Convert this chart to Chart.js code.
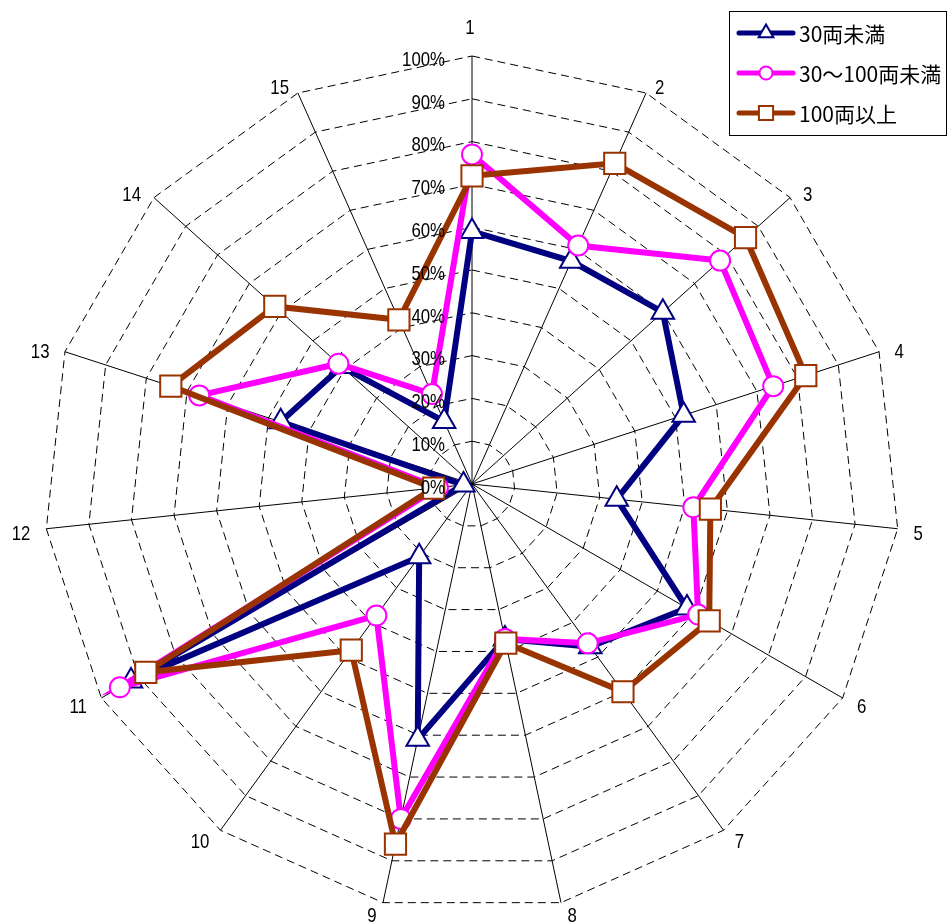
<!DOCTYPE html>
<html>
<head>
<meta charset="utf-8">
<script src="https://cdn.jsdelivr.net/npm/chart.js@4/dist/chart.umd.min.js"></script>
<style>
html,body{margin:0;padding:0;background:#fff;}
#wrap{width:950px;height:924px;}
</style>
</head>
<body>
<div id="wrap"><canvas id="c" width="950" height="924"></canvas></div>
<script>
// ---- data ----
const categories = ['1','2','3','4','5','6','7','8','9','10','11','12','13','14','15'];
const under30      = [59, 57, 60, 52, 34, 58, 47, 37, 61, 21, 92,  2, 47, 41, 16];
const from30to100  = [77, 61, 78, 74, 52, 61, 46, 37, 80, 38, 95,  8, 67, 42, 23];
const over100      = [72, 82, 86, 82, 56, 64, 60, 38, 86, 48, 88,  9, 74, 62, 42];
const tickValues   = [0, 10, 20, 30, 40, 50, 60, 70, 80, 90, 100];
const seriesNames  = ['30両未満', '30〜100両未満', '100両以上'];

// ---- styles ----
const colors = ['#000080', '#FF00FF', '#993300'];
const pStyles = ['triangle', 'circle', 'rect'];
const pRadii = [13, 10, 15];
const legendRadii = [8.5, 6.5, 10];
const seriesData = [under30, from30to100, over100];
const CX = 472, CY = 484, R = 428;
const SX = 0.8; // horizontal squeeze for the narrow digit font

function drawScaled(ctx, text, x, y, align) {
  ctx.save();
  ctx.translate(x, y);
  ctx.scale(SX, 1);
  ctx.textAlign = align;
  ctx.fillText(text, 0, 0);
  ctx.restore();
}

function marker(ctx, style, r, x, y) {
  ctx.beginPath();
  if (style === 'circle') {
    ctx.arc(x, y, r, 0, Math.PI * 2);
  } else if (style === 'rect') {
    const s = Math.SQRT1_2 * r;
    ctx.rect(x - s, y - s, 2 * s, 2 * s);
  } else {
    for (let k = 0; k < 3; k++) {
      const a = k * 2 * Math.PI / 3;
      const px = x + Math.sin(a) * r, py = y - Math.cos(a) * r;
      if (k === 0) ctx.moveTo(px, py); else ctx.lineTo(px, py);
    }
    ctx.closePath();
  }
  ctx.fill();
  ctx.stroke();
}

const overlay = {
  id: 'overlay',
  afterDatasetsDraw(chart) {
    const s = chart.scales.r;
    const ctx = chart.ctx;
    ctx.save();
    ctx.fillStyle = '#000';
    ctx.font = '21px "Liberation Sans", Arial, sans-serif';
    ctx.textBaseline = 'middle';
    tickValues.forEach(v => {
      const y = s.yCenter - s.getDistanceFromCenterForValue(v) + 4;
      drawScaled(ctx, v + '%', s.xCenter - 27, y, 'right');
    });
    categories.forEach((lab, i) => {
      const p = s.getPointPosition(i, s.drawingArea);
      const ang = p.angle + Math.PI / 2;
      const sn = Math.sin(ang), cs = Math.cos(ang);
      const w = ctx.measureText(lab).width * SX;
      let cx, cy;
      if (Math.abs(sn) < 0.01) cx = p.x - 2;
      else cx = p.x + 12 * sn + Math.sign(sn) * (w / 2 + 4);
      if (cs > 0.99) cy = p.y - 28;
      else cy = p.y + 4 - 10 * cs;
      drawScaled(ctx, lab, cx, cy, 'center');
    });
    ctx.restore();
  },
  afterDraw(chart) {
    const ctx = chart.ctx;
    ctx.save();
    const bx = 729.5, by = 11.5, bw = 217, bh = 124;
    ctx.fillStyle = '#fff';
    ctx.fillRect(bx, by, bw, bh);
    ctx.strokeStyle = '#000';
    ctx.lineWidth = 1;
    ctx.strokeRect(bx, by, bw, bh);
    const rows = [33, 73, 113];
    chart.data.datasets.forEach((ds, i) => {
      const y = rows[i];
      ctx.strokeStyle = ds.borderColor;
      ctx.lineWidth = 5;
      ctx.lineCap = 'round';
      ctx.beginPath();
      ctx.moveTo(739, y);
      ctx.lineTo(793, y);
      ctx.stroke();
      ctx.lineCap = 'butt';
      ctx.fillStyle = '#fff';
      ctx.lineWidth = 2;
      marker(ctx, pStyles[i], legendRadii[i], 766, y);
      ctx.fillStyle = '#000';
      ctx.font = '21px "Noto Sans CJK JP", sans-serif';
      ctx.textAlign = 'left';
      ctx.textBaseline = 'middle';
      ctx.fillText(ds.label, 799, y + 1);
    });
    ctx.restore();
  }
};

const datasets = seriesData.map((d, i) => ({
  label: seriesNames[i],
  data: d,
  borderColor: colors[i],
  backgroundColor: 'rgba(0,0,0,0)',
  borderWidth: 6,
  fill: false,
  tension: 0,
  pointStyle: pStyles[i],
  pointRadius: pRadii[i],
  pointHoverRadius: pRadii[i],
  pointBackgroundColor: '#fff',
  pointBorderColor: colors[i],
  pointBorderWidth: 2,
  order: 3 - i
}));

new Chart(document.getElementById('c'), {
  type: 'radar',
  data: { labels: categories, datasets: datasets },
  options: {
    responsive: false,
    animation: false,
    events: [],
    plugins: { legend: { display: false }, tooltip: { enabled: false }, title: { display: false } },
    scales: {
      r: {
        min: 0,
        max: 100,
        ticks: { display: false, stepSize: 10 },
        pointLabels: { display: false },
        grid: { color: '#000', lineWidth: 1 },
        border: { dash: [8, 5] },
        angleLines: { color: '#000', lineWidth: 1 },
        afterFit(scale) {
          scale.xCenter = CX;
          scale.yCenter = CY;
          scale.drawingArea = R;
        }
      }
    }
  },
  plugins: [overlay]
});
</script>
</body>
</html>
